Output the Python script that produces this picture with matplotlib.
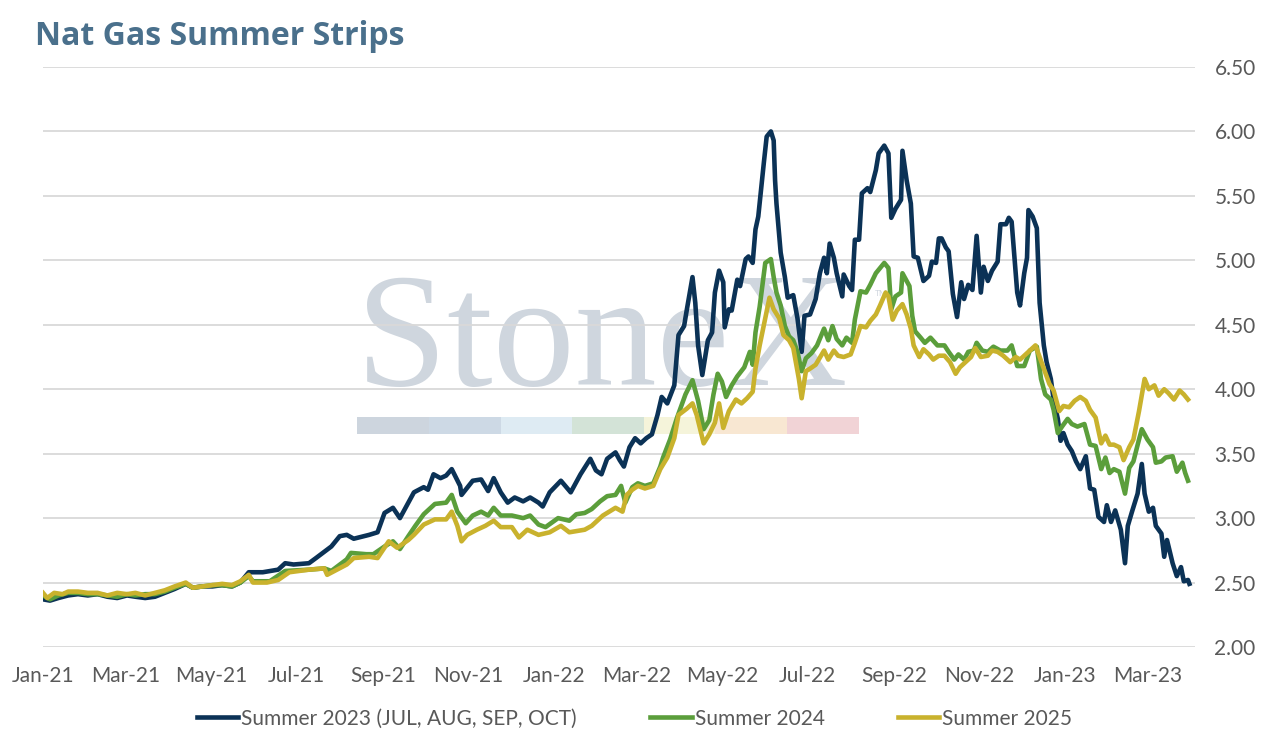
import numpy as np
import pandas as pd
import matplotlib
matplotlib.use("Agg")
import matplotlib.pyplot as plt
import matplotlib.dates as mdates
from matplotlib.patches import Rectangle

plt.rcParams['font.family'] = ['Lato', 'DejaVu Sans']

START = pd.Timestamp("2021-01-01")

# days since 2021-01-01
nav_days = [0, 5, 11, 18, 25, 32, 39, 46, 53, 60, 66, 73, 80, 87, 94, 102, 107, 114, 121, 128, 135, 141,
            147, 157, 168, 173, 179, 190, 195, 206, 212, 217, 222, 233, 239, 244, 250, 255, 261, 265, 272,
            275, 279, 284, 288, 292, 298, 299, 307, 313, 318, 322, 327, 332, 337, 343, 348, 354, 357, 362,
            370, 377, 384, 391, 395, 399, 403, 409, 412, 415, 419, 423, 427, 431, 435, 439, 442, 446, 451,
            454, 458, 460, 464, 466, 468, 471, 475, 478, 480, 483, 486, 487, 490, 492, 496, 498, 502, 504,
            507, 509, 511, 515, 517, 520, 522, 523, 524, 527, 530, 532, 536, 539, 542, 544, 548, 552, 555,
            558, 560, 562, 565, 567, 571, 572, 576, 578, 580, 583, 585, 589, 591, 595, 597, 601, 604, 606,
            609, 613, 614, 617, 620, 622, 625, 629, 633, 635, 638, 640, 642, 645, 647, 650, 653, 656, 658,
            661, 664, 667, 670, 672, 675, 678, 682, 684, 688, 690, 692, 696, 698, 701, 703, 704, 707, 710,
            712, 715, 717, 720, 722, 725, 727, 729, 732, 735, 738, 741, 745, 748, 751, 754, 758, 760, 763,
            766, 770, 773, 775, 778, 782, 785, 787, 790, 793, 795, 799, 801, 803, 807, 810, 813, 815, 818,
            819]
nav_vals = [2.37, 2.36, 2.38, 2.40, 2.41, 2.40, 2.41, 2.39, 2.38, 2.40, 2.39, 2.38, 2.39, 2.42, 2.45, 2.49,
            2.46, 2.47, 2.47, 2.48, 2.47, 2.50,
            2.58, 2.58, 2.60, 2.65, 2.64, 2.65, 2.69, 2.78, 2.86, 2.87, 2.84, 2.87, 2.89, 3.04, 3.08, 3.00,
            3.12, 3.20, 3.24, 3.22, 3.34, 3.31, 3.33, 3.38, 3.25, 3.18, 3.29, 3.30, 3.21, 3.31, 3.20, 3.12,
            3.16, 3.13, 3.16, 3.12, 3.09, 3.20, 3.29, 3.20, 3.34, 3.46, 3.37, 3.34, 3.46, 3.51, 3.45, 3.40,
            3.55, 3.62, 3.58, 3.62, 3.65, 3.80, 3.94, 3.89, 4.03, 4.42, 4.49, 4.62, 4.87, 4.67, 4.34, 4.11,
            4.38, 4.44, 4.75, 4.92, 4.83, 4.48, 4.62, 4.61, 4.85, 4.80, 5.01, 5.03, 4.98, 5.24, 5.34, 5.76,
            5.96, 6.00, 5.93, 5.62, 5.44, 5.06, 4.87, 4.71, 4.73, 4.55, 4.29, 4.57, 4.58, 4.70, 4.90,
            5.02, 4.90, 5.13, 5.02, 4.90, 4.72, 4.89, 4.80, 4.77, 5.16, 5.16, 5.52, 5.56, 5.53, 5.70, 5.83,
            5.89, 5.83, 5.33, 5.40, 5.47, 5.85, 5.62, 5.44, 5.03, 5.02, 4.84, 4.88, 4.99, 4.98, 5.17, 5.17,
            5.10, 5.07, 4.74, 4.56, 4.83, 4.70, 4.81, 4.77, 5.19, 4.75, 4.95, 4.84, 4.92, 4.99, 5.28, 5.28,
            5.33, 5.30, 4.75, 4.65, 4.90, 5.02, 5.39, 5.34, 5.25, 4.67, 4.34, 4.21, 4.08, 3.92, 3.77, 3.60,
            3.66, 3.57, 3.52, 3.44, 3.38, 3.48, 3.23, 3.22, 3.01, 2.97, 3.10, 2.97, 3.06, 2.91, 2.65, 2.94,
            3.05, 3.19, 3.42, 3.19, 3.05, 3.08, 2.94, 2.88, 2.70, 2.83, 2.65, 2.55, 2.62, 2.51, 2.52, 2.49]

g_days = [0, 5, 11, 18, 25, 32, 39, 46, 53, 60, 66, 73, 80, 87, 94, 102, 107, 114, 121, 128, 135, 141,
          147, 150, 162, 173, 190, 201, 206, 217, 220, 231, 236, 244, 250, 255, 261, 266, 272, 280, 288,
          292, 296, 302, 307, 313, 318, 322, 327, 335, 343, 348, 354, 359, 368, 376, 381, 387, 392, 398,
          403, 409, 413, 416, 421, 425, 430, 436, 441, 443, 448, 453, 459, 464, 468, 472, 476, 479, 482,
          485, 488, 492, 496, 501, 505, 507, 509, 512, 516, 520, 522, 524, 527, 530, 533, 536, 539, 542,
          545, 549, 553, 558, 561, 564, 567, 571, 574, 578, 580, 584, 588, 591, 595, 598, 601, 604, 606,
          609, 613, 614, 619, 621, 623, 627, 630, 634, 639, 644, 647, 651, 654, 658, 661, 665, 667, 671,
          675, 679, 684, 689, 692, 696, 701, 705, 710, 713, 716, 720, 722, 725, 728, 732, 735, 739, 744,
          748, 752, 756, 759, 762, 765, 769, 773, 776, 779, 783, 785, 789, 793, 795, 799, 802, 807, 810,
          814, 816, 818]
g_vals = [2.40, 2.37, 2.40, 2.42, 2.42, 2.41, 2.41, 2.40, 2.39, 2.41, 2.40, 2.41, 2.41, 2.43, 2.46, 2.49,
          2.46, 2.47, 2.48, 2.48, 2.47, 2.50,
          2.55, 2.51, 2.51, 2.59, 2.60, 2.61, 2.59, 2.68, 2.73, 2.72, 2.72, 2.78, 2.82, 2.76, 2.86, 2.94,
          3.03, 3.11, 3.12, 3.18, 3.05, 2.96, 3.02, 3.05, 3.02, 3.08, 3.02, 3.02, 3.00, 3.02, 2.95, 2.93,
          3.00, 2.98, 3.03, 3.04, 3.07, 3.13, 3.17, 3.18, 3.25, 3.12, 3.24, 3.27, 3.25, 3.27, 3.40, 3.47,
          3.61, 3.78, 3.96, 4.07, 3.91, 3.69, 3.76, 3.96, 4.12, 4.06, 3.94, 4.03, 4.10, 4.17, 4.29, 4.19,
          4.44, 4.64, 4.98, 5.01, 4.87, 4.75, 4.65, 4.49, 4.41, 4.38, 4.29, 4.14, 4.24, 4.28, 4.34, 4.47,
          4.38, 4.49, 4.39, 4.34, 4.40, 4.36, 4.54, 4.76, 4.75, 4.81, 4.90, 4.94, 4.98, 4.94, 4.62, 4.72,
          4.75, 4.90, 4.80, 4.57, 4.45, 4.40, 4.36, 4.40, 4.34, 4.34, 4.29, 4.23, 4.27, 4.23, 4.29, 4.30,
          4.36, 4.30, 4.29, 4.33, 4.30, 4.30, 4.34, 4.18, 4.18, 4.30, 4.33, 4.08, 3.96, 3.92, 3.84, 3.66,
          3.71, 3.77, 3.73, 3.71, 3.73, 3.57, 3.56, 3.38, 3.47, 3.35, 3.38, 3.36, 3.19, 3.39, 3.44, 3.61,
          3.69, 3.61, 3.55, 3.43, 3.44, 3.47, 3.48, 3.36, 3.43, 3.35, 3.29]

y_days = [0, 3, 8, 14, 18, 25, 32, 39, 46, 53, 60, 66, 73, 80, 87, 94, 102, 107, 114, 121, 128, 135, 141,
          147, 150, 160, 168, 176, 190, 201, 203, 217, 222, 233, 239, 247, 253, 261, 265, 272, 280, 288,
          292, 296, 299, 303, 310, 316, 322, 327, 335, 340, 346, 354, 362, 370, 376, 387, 392, 400, 409,
          414, 417, 421, 425, 430, 436, 441, 446, 451, 454, 460, 464, 467, 472, 476, 480, 483, 486, 490,
          495, 499, 503, 507, 509, 512, 516, 519, 522, 526, 529, 533, 536, 540, 542, 545, 548, 552, 558,
          561, 565, 568, 572, 577, 580, 584, 588, 591, 595, 598, 602, 604, 607, 610, 614, 617, 620, 622,
          626, 629, 633, 636, 640, 644, 648, 652, 655, 659, 663, 666, 670, 675, 678, 682, 686, 691, 695,
          698, 704, 709, 712, 715, 719, 722, 726, 729, 733, 737, 741, 745, 748, 752, 756, 759, 762, 765,
          769, 772, 776, 779, 783, 787, 790, 794, 797, 801, 804, 808, 812, 815, 818]
y_vals = [2.42, 2.38, 2.42, 2.41, 2.43, 2.43, 2.42, 2.42, 2.40, 2.42, 2.41, 2.42, 2.40, 2.42, 2.44, 2.47,
          2.50, 2.46, 2.47, 2.48, 2.49, 2.48, 2.51,
          2.56, 2.50, 2.50, 2.52, 2.58, 2.60, 2.61, 2.56, 2.64, 2.69, 2.70, 2.69, 2.82, 2.77, 2.83, 2.87,
          2.95, 2.99, 2.99, 3.05, 2.94, 2.82, 2.87, 2.91, 2.94, 2.98, 2.93, 2.93, 2.85, 2.91, 2.87, 2.89,
          2.94, 2.89, 2.91, 2.94, 3.02, 3.08, 3.05, 3.18, 3.22, 3.25, 3.23, 3.25, 3.38, 3.47, 3.62, 3.80,
          3.85, 3.89, 3.80, 3.58, 3.65, 3.74, 3.89, 3.70, 3.83, 3.92, 3.89, 3.93, 3.98, 4.16, 4.34, 4.55,
          4.71, 4.62, 4.55, 4.42, 4.38, 4.32, 4.08, 3.93, 4.14, 4.16, 4.19, 4.30, 4.23, 4.30, 4.26, 4.25,
          4.27, 4.36, 4.49, 4.48, 4.53, 4.58, 4.65, 4.75, 4.72, 4.54, 4.61, 4.66, 4.58, 4.47, 4.34, 4.25,
          4.31, 4.27, 4.23, 4.26, 4.26, 4.21, 4.12, 4.17, 4.21, 4.25, 4.32, 4.25, 4.26, 4.30, 4.29, 4.26,
          4.21, 4.25, 4.23, 4.29, 4.34, 4.25, 4.16, 4.04, 3.99, 3.83, 3.87, 3.86, 3.91, 3.94, 3.91, 3.84,
          3.78, 3.58, 3.64, 3.57, 3.57, 3.55, 3.45, 3.55, 3.61, 3.83, 4.08, 4.00, 4.03, 3.95, 4.00, 3.97,
          3.92, 3.99, 3.96, 3.92]

series_names = ["Summer 2023 (JUL, AUG, SEP, OCT)", "Summer 2024", "Summer 2025"]
series_colors = ["#0b3256", "#5b9e3b", "#c9b22d"]

fig = plt.figure(figsize=(12.69, 7.37), dpi=100)
ax = fig.add_axes([43 / 1269, 90 / 737, 1152 / 1269, 580 / 737])
ax.patch.set_alpha(0)

# watermark
wm = "#cfd6de"
ax.text(0.272, 0.452, "StoneX", transform=ax.transAxes, fontsize=118, family="Liberation Serif",
        color=wm, va="baseline", ha="left", zorder=0.1)
ax.text(0.722, 0.605, "TM", transform=ax.transAxes, fontsize=6, color=wm, zorder=0.1)
bar_cols = ["#cdd5de", "#cdd9e5", "#deebf3", "#d3e3d7", "#f5f4da", "#f8e7d2", "#f1d3d6"]
seg = (0.708 - 0.273) / len(bar_cols)
for i, c in enumerate(bar_cols):
    ax.add_patch(Rectangle((0.273 + i * seg, 0.367), seg, 0.03, transform=ax.transAxes,
                           facecolor=c, edgecolor="none", zorder=0.1))

for days, vals, name, col in zip([nav_days, g_days, y_days], [nav_vals, g_vals, y_vals],
                                 series_names, series_colors):
    dates = START + pd.to_timedelta(days, unit="D")
    ax.plot(dates, vals, color=col, lw=3.3, label=name, zorder=3, solid_joinstyle="round")

ax.set_ylim(2.0, 6.5)
ax.set_yticks(np.arange(2.0, 6.51, 0.5))
ax.yaxis.set_major_formatter(matplotlib.ticker.FormatStrFormatter("%.2f"))
ax.yaxis.tick_right()
ax.set_xlim(START, START + pd.Timedelta(days=823))
ax.xaxis.set_major_locator(mdates.MonthLocator(bymonth=[1, 3, 5, 7, 9, 11]))
ax.xaxis.set_major_formatter(mdates.DateFormatter("%b-%y"))
ax.tick_params(axis="both", length=0, labelsize=15, colors="#595959")
ax.tick_params(axis="y", pad=14)
ax.tick_params(axis="x", pad=14)
ax.grid(axis="y", color="#d9d9d9", lw=1.3, zorder=0.5)
ax.set_axisbelow(True)
for s in ax.spines.values():
    s.set_visible(False)

fig.text(35 / 1269, (737 - 45) / 737, "Nat Gas Summer Strips", fontsize=23, fontweight="bold",
         family=["Open Sans", "DejaVu Sans"], color="#4a708c", va="baseline", ha="left")

fig.legend(loc="center", bbox_to_anchor=(0.5, 0.025), ncol=3, frameon=False, fontsize=15,
           handlelength=2.0, handletextpad=0.15, columnspacing=3.5, labelcolor="#595959")

fig.savefig("out.png", dpi=100)
